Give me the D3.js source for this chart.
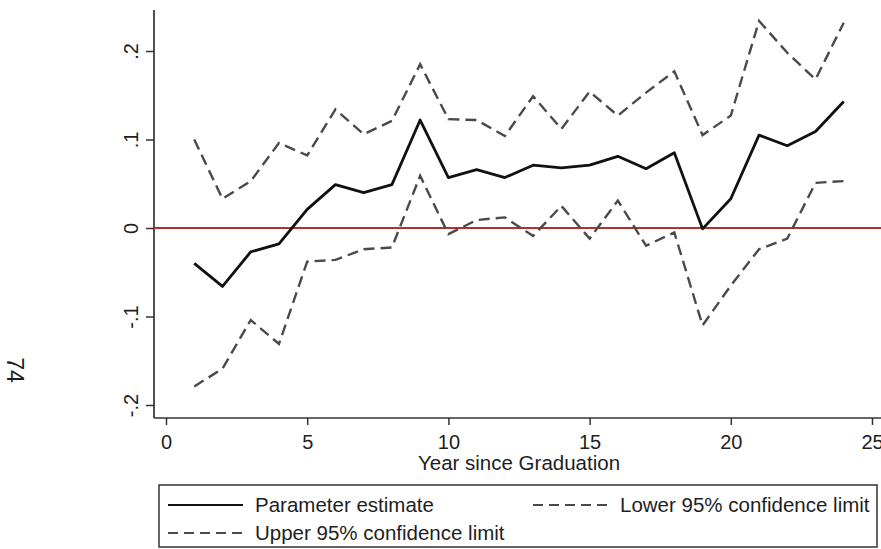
<!DOCTYPE html>
<html>
<head>
<meta charset="utf-8">
<script src="https://cdn.jsdelivr.net/npm/d3@7"></script>
<style>
  body { margin: 0; background: #fff; }
  svg { display: block; font-family: "Liberation Sans", Arial, sans-serif; }
</style>
</head>
<body>
<svg id="chart" width="881" height="549"></svg>
<script>
const years = [1, 2, 3, 4, 5, 6, 7, 8, 9, 10, 11, 12, 13, 14, 15, 16, 17, 18, 19, 20, 21, 22, 23, 24];
const estimate = [-0.040, -0.066, -0.027, -0.018, 0.021, 0.049, 0.040, 0.049, 0.122, 0.057, 0.066, 0.057,
                  0.071, 0.068, 0.071, 0.081, 0.067, 0.085, -0.001, 0.033, 0.105, 0.093, 0.109, 0.143];
const lower = [-0.179, -0.159, -0.104, -0.131, -0.038, -0.036, -0.024, -0.022, 0.059, -0.007, 0.009, 0.012,
               -0.009, 0.025, -0.012, 0.031, -0.020, -0.005, -0.110, -0.065, -0.024, -0.012, 0.051, 0.053];
const upper = [0.100, 0.033, 0.053, 0.096, 0.082, 0.134, 0.106, 0.121, 0.185, 0.123, 0.122, 0.104,
               0.149, 0.112, 0.154, 0.127, 0.153, 0.177, 0.105, 0.127, 0.234, 0.198, 0.168, 0.232];
const xTicks = [0, 5, 10, 15, 20, 25];
const yTicks = [-0.2, -0.1, 0, 0.1, 0.2];
const yTickLabels = ['-.2', '-.1', '0', '.1', '.2'];
const legendLabels = ['Parameter estimate', 'Lower 95% confidence limit', 'Upper 95% confidence limit'];

const svg = d3.select('svg#chart');
const ink = '#1e1e1e';

const x = d3.scaleLinear().domain([0, 25]).range([166, 872]);
const y = d3.scaleLinear().domain([-0.2, 0.2]).range([405, 51]);

// page number from the scanned page
svg.append('text')
    .attr('transform', 'translate(7,370) rotate(90)')
    .attr('text-anchor', 'middle')
    .style('font-size', '23px')
    .style('fill', ink)
    .text('74');

// axis lines (longer than the tick range, as in the original)
svg.append('line')
    .attr('x1', 154).attr('x2', 154).attr('y1', 10).attr('y2', 418)
    .style('stroke', '#333').style('stroke-width', 1.7);
svg.append('line')
    .attr('x1', 154).attr('x2', 881).attr('y1', 418).attr('y2', 418)
    .style('stroke', '#333').style('stroke-width', 1.7);

const yAxis = svg.append('g')
    .attr('transform', 'translate(154,0)')
    .call(d3.axisLeft(y).tickValues(yTicks).tickSize(8)
      .tickFormat((d, i) => yTickLabels[i]));
yAxis.select('.domain').remove();
yAxis.selectAll('.tick line').style('stroke', '#333').style('stroke-width', 1.5);
yAxis.selectAll('.tick text')
    .attr('x', null).attr('dy', null)
    .attr('transform', 'translate(-16,0) rotate(-90)')
    .attr('text-anchor', 'middle')
    .style('font-size', '20px')
    .style('font-family', '"Liberation Sans", Arial, sans-serif')
    .style('fill', ink);

const xAxis = svg.append('g')
    .attr('transform', 'translate(0,418)')
    .call(d3.axisBottom(x).tickValues(xTicks).tickSize(7).tickFormat(d3.format('d')));
xAxis.select('.domain').remove();
xAxis.selectAll('.tick line').style('stroke', '#333').style('stroke-width', 1.5);
xAxis.selectAll('.tick text')
    .attr('y', 31).attr('dy', null)
    .style('font-size', '20px')
    .style('font-family', '"Liberation Sans", Arial, sans-serif')
    .style('fill', ink);

svg.append('text')
    .attr('x', 519).attr('y', 470)
    .attr('text-anchor', 'middle')
    .style('font-size', '20.5px')
    .style('fill', ink)
    .text('Year since Graduation');

// zero reference line
svg.append('line')
    .attr('x1', 154).attr('x2', 881)
    .attr('y1', y(0)).attr('y2', y(0))
    .style('stroke', '#b3302c').style('stroke-width', 2);

const line = d3.line()
    .x(d => x(d[0]))
    .y(d => y(d[1]));

svg.append('path')
    .datum(d3.zip(years, lower))
    .attr('d', line)
    .style('fill', 'none').style('stroke', '#4a4a4a')
    .style('stroke-width', 2.4).style('stroke-dasharray', '11,6');

svg.append('path')
    .datum(d3.zip(years, upper))
    .attr('d', line)
    .style('fill', 'none').style('stroke', '#4a4a4a')
    .style('stroke-width', 2.4).style('stroke-dasharray', '11,6');

svg.append('path')
    .datum(d3.zip(years, estimate))
    .attr('d', line)
    .style('fill', 'none').style('stroke', '#111')
    .style('stroke-width', 2.8).style('stroke-linejoin', 'round');

// legend
const legend = svg.append('g');
legend.append('rect')
    .attr('x', 159).attr('y', 485).attr('width', 718).attr('height', 62)
    .style('fill', '#fff').style('stroke', '#333').style('stroke-width', 1.5);

const items = [
  {label: legendLabels[0], x: 168, y: 505, dash: null, color: '#111'},
  {label: legendLabels[1], x: 533, y: 505, dash: '10,6', color: '#4a4a4a'},
  {label: legendLabels[2], x: 168, y: 533, dash: '10,6', color: '#4a4a4a'}
];
const item = legend.selectAll('g.item')
    .data(items)
    .enter().append('g')
    .attr('class', 'item');
item.append('line')
    .attr('x1', d => d.x).attr('x2', d => d.x + 75)
    .attr('y1', d => d.y).attr('y2', d => d.y)
    .style('stroke', d => d.color)
    .style('stroke-width', 2)
    .style('stroke-dasharray', d => d.dash);
item.append('text')
    .attr('x', d => d.x + 87).attr('y', d => d.y)
    .attr('dy', '0.35em')
    .style('font-size', '20.5px')
    .style('fill', ink)
    .text(d => d.label);
</script>
</body>
</html>
